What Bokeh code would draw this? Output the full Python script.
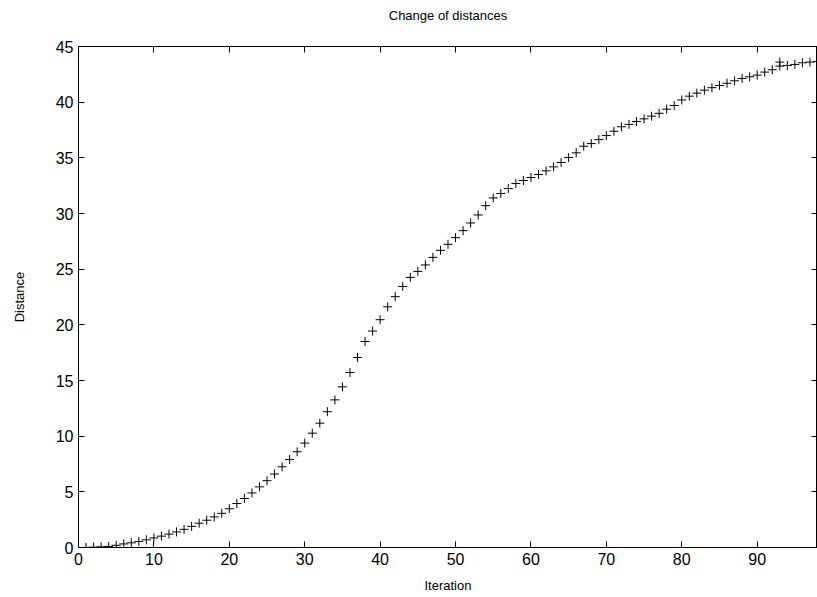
from bokeh.plotting import figure
from bokeh.models import LinearAxis, SingleIntervalTicker, Range1d, ColumnDataSource, CustomJSTickFormatter
from bokeh.embed import file_html
from bokeh.resources import INLINE

iterations = list(range(0, 99)) + [93]
distances = [
    0.0, 0.01, 0.03, 0.06, 0.1, 0.2, 0.32, 0.42, 0.55, 0.69,
    0.86, 1.02, 1.2, 1.4, 1.63, 1.9, 2.18, 2.45, 2.75, 3.07,
    3.48, 3.95, 4.4, 4.9, 5.45, 6.0, 6.6, 7.25, 7.9, 8.6,
    9.38, 10.27, 11.17, 12.2, 13.26, 14.43, 15.72, 17.07, 18.5, 19.44,
    20.46, 21.62, 22.53, 23.45, 24.26, 24.8, 25.38, 26.06, 26.69, 27.23,
    27.83, 28.46, 29.15, 29.87, 30.7, 31.4, 31.8, 32.24, 32.69, 32.96,
    33.23, 33.5, 33.83, 34.19, 34.58, 35.03, 35.45, 36.04, 36.28, 36.64,
    37.0, 37.39, 37.79, 38.0, 38.26, 38.5, 38.74, 39.0, 39.37, 39.7,
    40.2, 40.54, 40.81, 41.08, 41.3, 41.5, 41.7, 41.92, 42.13, 42.28,
    42.43, 42.7, 42.91, 43.24, 43.3, 43.39, 43.54, 43.6, 43.66,
    43.6,
]

title_text = "Change of distances"
x_label = "Iteration"
y_label = "Distance"

FONT = "Liberation Sans"

p = figure(width=817, height=597, output_backend="svg", toolbar_location=None,
           x_range=Range1d(0, 98), y_range=Range1d(0, 45),
           min_border_left=78, min_border_right=0, min_border_top=46, min_border_bottom=50,
           background_fill_color="white", border_fill_color="white")

p.title.text = title_text
p.title.align = "center"
p.title.text_font = FONT
p.title.text_font_size = "13px"
p.title.text_font_style = "normal"
p.title.text_color = "black"
p.title.standoff = 10

p.grid.visible = False
p.outline_line_color = "black"
p.outline_line_width = 1

src = ColumnDataSource(dict(x=iterations, y=distances))
p.scatter("x", "y", source=src, marker="cross", size=9, line_color="black", line_width=1)

xt = SingleIntervalTicker(interval=10, num_minor_ticks=0)
yt = SingleIntervalTicker(interval=5, num_minor_ticks=0)

def style(ax, show_labels=True):
    ax.axis_line_color = "black"
    ax.axis_line_width = 1
    ax.major_tick_in = 6
    ax.major_tick_out = 0
    ax.minor_tick_in = 0
    ax.minor_tick_out = 0
    ax.major_tick_line_color = "black"
    ax.major_label_text_font = FONT
    ax.major_label_text_font_size = "16px" if show_labels else "1px"
    ax.major_label_text_color = "black"
    ax.axis_label_text_font = FONT
    ax.axis_label_text_font_size = "13px"
    ax.axis_label_text_font_style = "normal"
    ax.axis_label_text_color = "black"

p.xaxis.ticker = xt
p.yaxis.ticker = yt
p.xaxis.axis_label = x_label
p.yaxis.axis_label = y_label
style(p.xaxis[0])
style(p.yaxis[0])
p.xaxis.major_label_standoff = 5
p.yaxis.major_label_standoff = 5
p.xaxis.axis_label_standoff = 10
p.yaxis.axis_label_standoff = 26

blank = CustomJSTickFormatter(code="return ' ';")
top = LinearAxis(ticker=SingleIntervalTicker(interval=10, num_minor_ticks=0), formatter=blank)
style(top, False)
top.major_label_standoff = 15
right = LinearAxis(ticker=SingleIntervalTicker(interval=5, num_minor_ticks=0),
                   formatter=CustomJSTickFormatter(code="return '';"))
style(right, False)
right.major_label_standoff = 0
p.add_layout(top, "above")
p.add_layout(right, "right")

open("out.html", "w").write(file_html(p, INLINE))
